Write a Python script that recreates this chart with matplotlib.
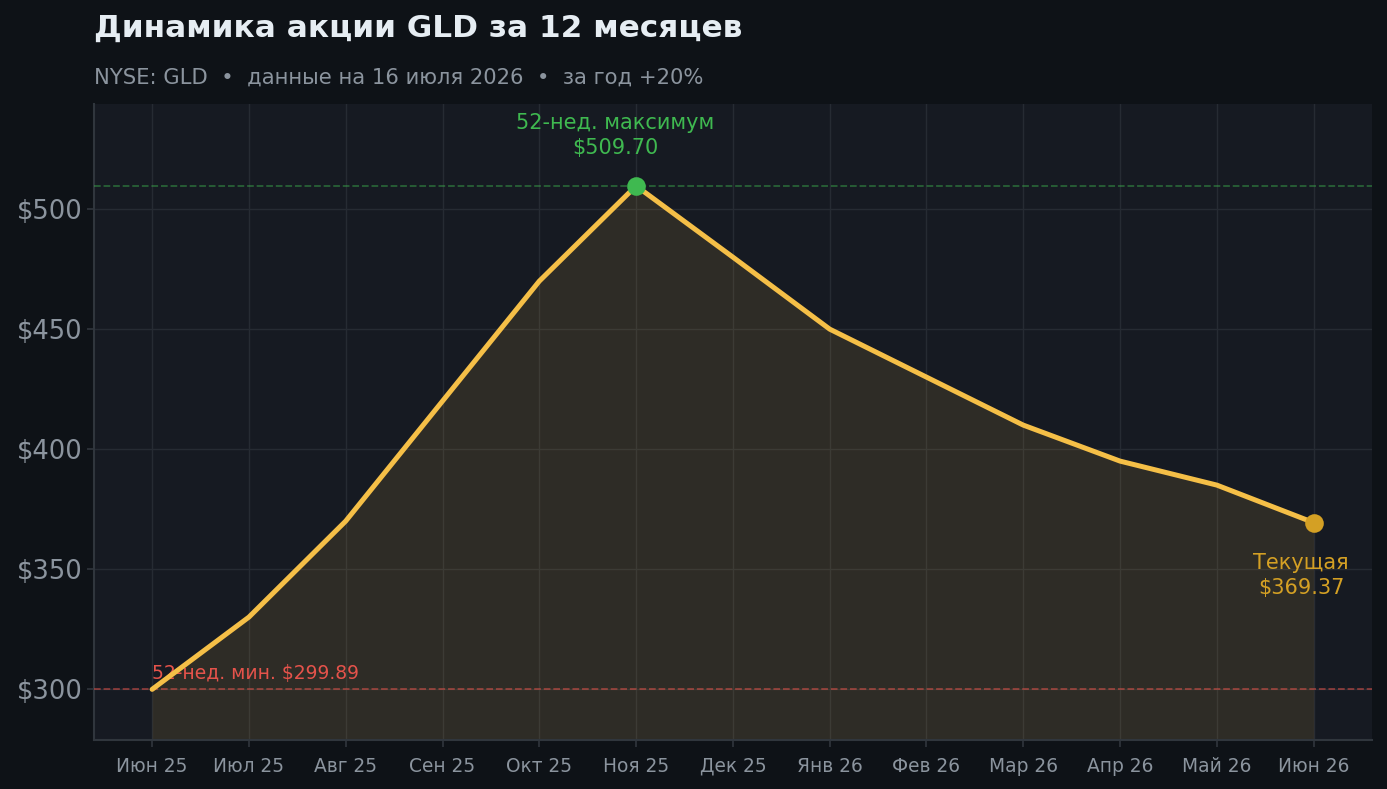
import matplotlib.pyplot as plt

# ===== данные =====
months = ['Июн 25', 'Июл 25', 'Авг 25', 'Сен 25', 'Окт 25', 'Ноя 25', 'Дек 25',
          'Янв 26', 'Фев 26', 'Мар 26', 'Апр 26', 'Май 26', 'Июн 26']
prices = [299.89, 330, 370, 420, 470, 509.70, 480, 450, 430, 410, 395, 385, 369.37]
high_52w = 509.70
low_52w = 299.89
current = 369.37

# ===== цвета =====
BG_FIG = '#0e1217'
BG_AX = '#161a22'
LINE = '#f5bf47'
GREEN = '#3fb950'
RED = '#e5534b'
GOLD = '#d4a024'
GRID = '#262b33'
TXT = '#8b949e'

plt.rcParams['font.family'] = ['DejaVu Sans']

fig = plt.figure(figsize=(13.87, 7.89), dpi=100, facecolor=BG_FIG)
ax = fig.add_axes([0.0678, 0.062, 0.9212, 0.806])
ax.set_facecolor(BG_AX)

x = list(range(len(months)))
y_bottom, y_top = 278.75, 543.75

ax.fill_between(x, prices, y_bottom, color=LINE, alpha=0.11, linewidth=0, zorder=2)
ax.plot(x, prices, color=LINE, linewidth=3.6, zorder=4, solid_capstyle='round')

# 52-недельные уровни
ax.axhline(high_52w, color=GREEN, linestyle='--', linewidth=1.3, alpha=0.45, zorder=3)
ax.axhline(low_52w, color=RED, linestyle='--', linewidth=1.3, alpha=0.55, zorder=3)

i_max = prices.index(high_52w)
ax.scatter([i_max], [high_52w], s=180, color=GREEN, zorder=5, linewidths=0)
ax.scatter([x[-1]], [current], s=180, color=GOLD, zorder=5, linewidths=0)

ax.annotate('52-нед. максимум\n${:.2f}'.format(high_52w), xy=(i_max, high_52w),
            xytext=(-15, 20), textcoords='offset points', ha='center', va='bottom',
            color=GREEN, fontsize=15, linespacing=1.3)
ax.annotate('Текущая\n${:.2f}'.format(current), xy=(x[-1], current),
            xytext=(-9, -22), textcoords='offset points', ha='center', va='top',
            color=GOLD, fontsize=15, linespacing=1.3)
ax.text(0, low_52w + 2.5, '52-нед. мин. ${:.2f}'.format(low_52w), color=RED,
        fontsize=13.5, ha='left', va='bottom')

# оси
ax.set_xlim(-0.6, 12.6)
ax.set_ylim(y_bottom, y_top)
ax.set_xticks(x)
ax.set_xticklabels(months)
ax.set_yticks([300, 350, 400, 450, 500])
ax.set_yticklabels(['$300', '$350', '$400', '$450', '$500'])
ax.tick_params(axis='x', colors=TXT, labelsize=13.4, length=5, width=1.2, pad=7)
ax.tick_params(axis='y', colors=TXT, labelsize=18.5, length=5, width=1.2, pad=3)
ax.tick_params(axis='both', color='#30363d')
ax.grid(True, color=GRID, linewidth=1.0, zorder=0)
ax.set_axisbelow(True)
for s in ['top', 'right']:
    ax.spines[s].set_visible(False)
for s in ['left', 'bottom']:
    ax.spines[s].set_color('#30363d')
    ax.spines[s].set_linewidth(1.5)

# заголовки
fig.text(0.0678, 0.964, 'Динамика акции GLD за 12 месяцев', fontsize=22.4, fontweight='bold',
         color='#e6edf3', ha='left', va='center')
fig.text(0.0678, 0.902, 'NYSE: GLD  •  данные на 16 июля 2026  •  за год +20%', fontsize=15.2,
         color=TXT, ha='left', va='center')

fig.savefig('out.png', dpi=100, facecolor=BG_FIG)
